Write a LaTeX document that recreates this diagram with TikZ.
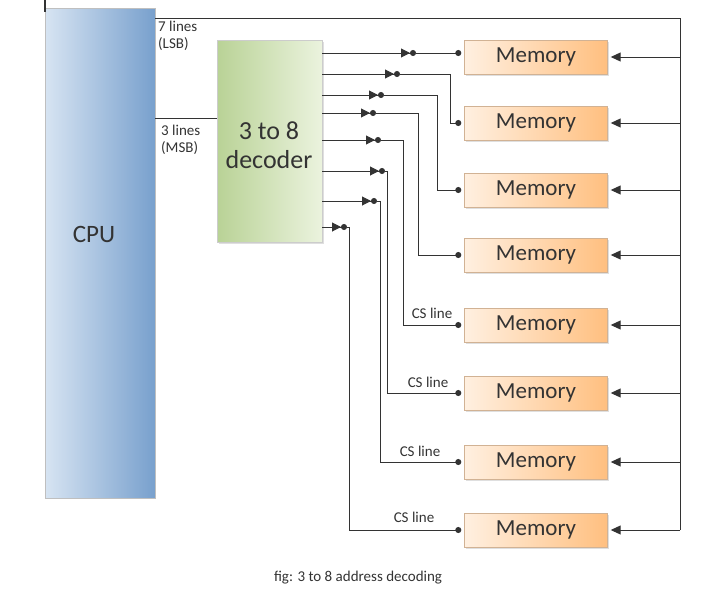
\documentclass[tikz,border=0pt]{standalone}
\usepackage{fontspec}
\setmainfont{Carlito}
\usepackage{tikz}
\usetikzlibrary{arrows.meta,shapes,shadows}
\definecolor{cpublue}{RGB}{120,160,205}
\definecolor{cpulight}{RGB}{215,228,242}
\definecolor{decgreen}{RGB}{185,210,150}
\definecolor{declight}{RGB}{235,243,222}
\tikzset{
mem/.style={draw=orange!40!gray!60,left color=orange!12,right color=orange!50,minimum width=143pt,minimum height=34pt,font=\fontsize{23}{23}\selectfont,drop shadow={opacity=0.25,shadow xshift=1.5pt,shadow yshift=-1.5pt}},
inv/.style={-{Triangle[length=9pt,width=9pt]Circle[length=6pt]},line width=1pt},
cs/.style={{Circle[length=6pt]}-,line width=1pt},
bus/.style={-{Triangle[length=10pt,width=9pt]},line width=1pt},
lbl/.style={font=\fontsize{15}{17}\selectfont,align=left,inner sep=1pt}
}
\begin{document}
\begin{tikzpicture}[x=1pt,y=-1pt,black!80]
\useasboundingbox (0,0) rectangle (720,597);
\node (cpu) at (100,253)[draw=gray!50,left color=cpulight,right color=cpublue,minimum width=110pt,minimum height=490pt] {};
\node at (94,234) {\fontsize{25}{25}\selectfont CPU};
\node (dec) at (269.5,141)[draw=gray!40,left color=decgreen,right color=declight,minimum width=105pt,minimum height=202pt,drop shadow={opacity=0.25,shadow xshift=1.5pt,shadow yshift=-1.5pt}] {};
\node at (269,145)[align=center,font=\fontsize{26}{29}\selectfont] {3 to 8\\decoder};
\draw [line width=1.5pt] (45,0) -- (45,12);
\node (m1) at (536,57)[mem] {Memory};
\node (m2) at (536,123)[mem] {Memory};
\node (m3) at (536,190)[mem] {Memory};
\node (m4) at (536,255)[mem] {Memory};
\node (m5) at (536,325)[mem] {Memory};
\node (m6) at (536,393)[mem] {Memory};
\node (m7) at (536,462)[mem] {Memory};
\node (m8) at (536,530)[mem] {Memory};
% address lines from the cpu
\coordinate (b0) at (680,18);
\coordinate (b8) at (680,530);
\draw [line width=1pt] (cpu.east |- b0) -- (b0) -- (b8);
\draw [line width=1pt] (cpu.east |- 0,118) -- (dec.west |- 0,118);
\node at (157,20)[lbl,anchor=north west] {7 lines\\(LSB)};
\node at (160,124)[lbl,anchor=north west] {3 lines\\(MSB)};
\draw [bus] (680,57) -- ([xshift=3pt]m1.east);
\draw [bus] (680,123) -- ([xshift=3pt]m2.east);
\draw [bus] (680,190) -- ([xshift=3pt]m3.east);
\draw [bus] (680,255) -- ([xshift=3pt]m4.east);
\draw [bus] (680,325) -- ([xshift=3pt]m5.east);
\draw [bus] (680,393) -- ([xshift=3pt]m6.east);
\draw [bus] (680,462) -- ([xshift=3pt]m7.east);
\draw [bus] (680,530) -- ([xshift=3pt]m8.east);
% decoder outputs
\coordinate (o1) at (416,53);
\coordinate (o2) at (400,74);
\coordinate (o3) at (384,95);
\coordinate (o4) at (376,113);
\coordinate (o5) at (381,140);
\coordinate (o6) at (385,171);
\coordinate (o7) at (377,201);
\coordinate (o8) at (347,227);
\draw [inv] (dec.east |- o1) -- (o1);
\draw [inv] (dec.east |- o2) -- (o2);
\draw [inv] (dec.east |- o3) -- (o3);
\draw [inv] (dec.east |- o4) -- (o4);
\draw [inv] (dec.east |- o5) -- (o5);
\draw [inv] (dec.east |- o6) -- (o6);
\draw [inv] (dec.east |- o7) -- (o7);
\draw [inv] (dec.east |- o8) -- (o8);
\draw [cs] ([xshift=-3pt]m1.west |- o1) -- (o1);
\draw [cs] ([xshift=-3pt]m2.west) -- (450,123) |- (o2);
\draw [cs] ([xshift=-3pt]m3.west) -- (437,190) |- (o3);
\draw [cs] ([xshift=-3pt]m4.west) -- (418,255) |- (o4);
\draw [cs] ([xshift=-3pt]m5.west) -- (403,325) |- (o5);
\draw [cs] ([xshift=-3pt]m6.west) -- (387,393) |- (o6);
\draw [cs] ([xshift=-3pt]m7.west) -- (380,462) |- (o7);
\draw [cs] ([xshift=-3pt]m8.west) -- (349,530) |- (o8);
\node at (432,320)[lbl,anchor=south] {CS line};
\node at (428,389)[lbl,anchor=south] {CS line};
\node at (420,458)[lbl,anchor=south] {CS line};
\node at (414,524)[lbl,anchor=south] {CS line};
\node (cap) at (358,578)[lbl] {fig: 3 to 8 address decoding};
\end{tikzpicture}
\end{document}
